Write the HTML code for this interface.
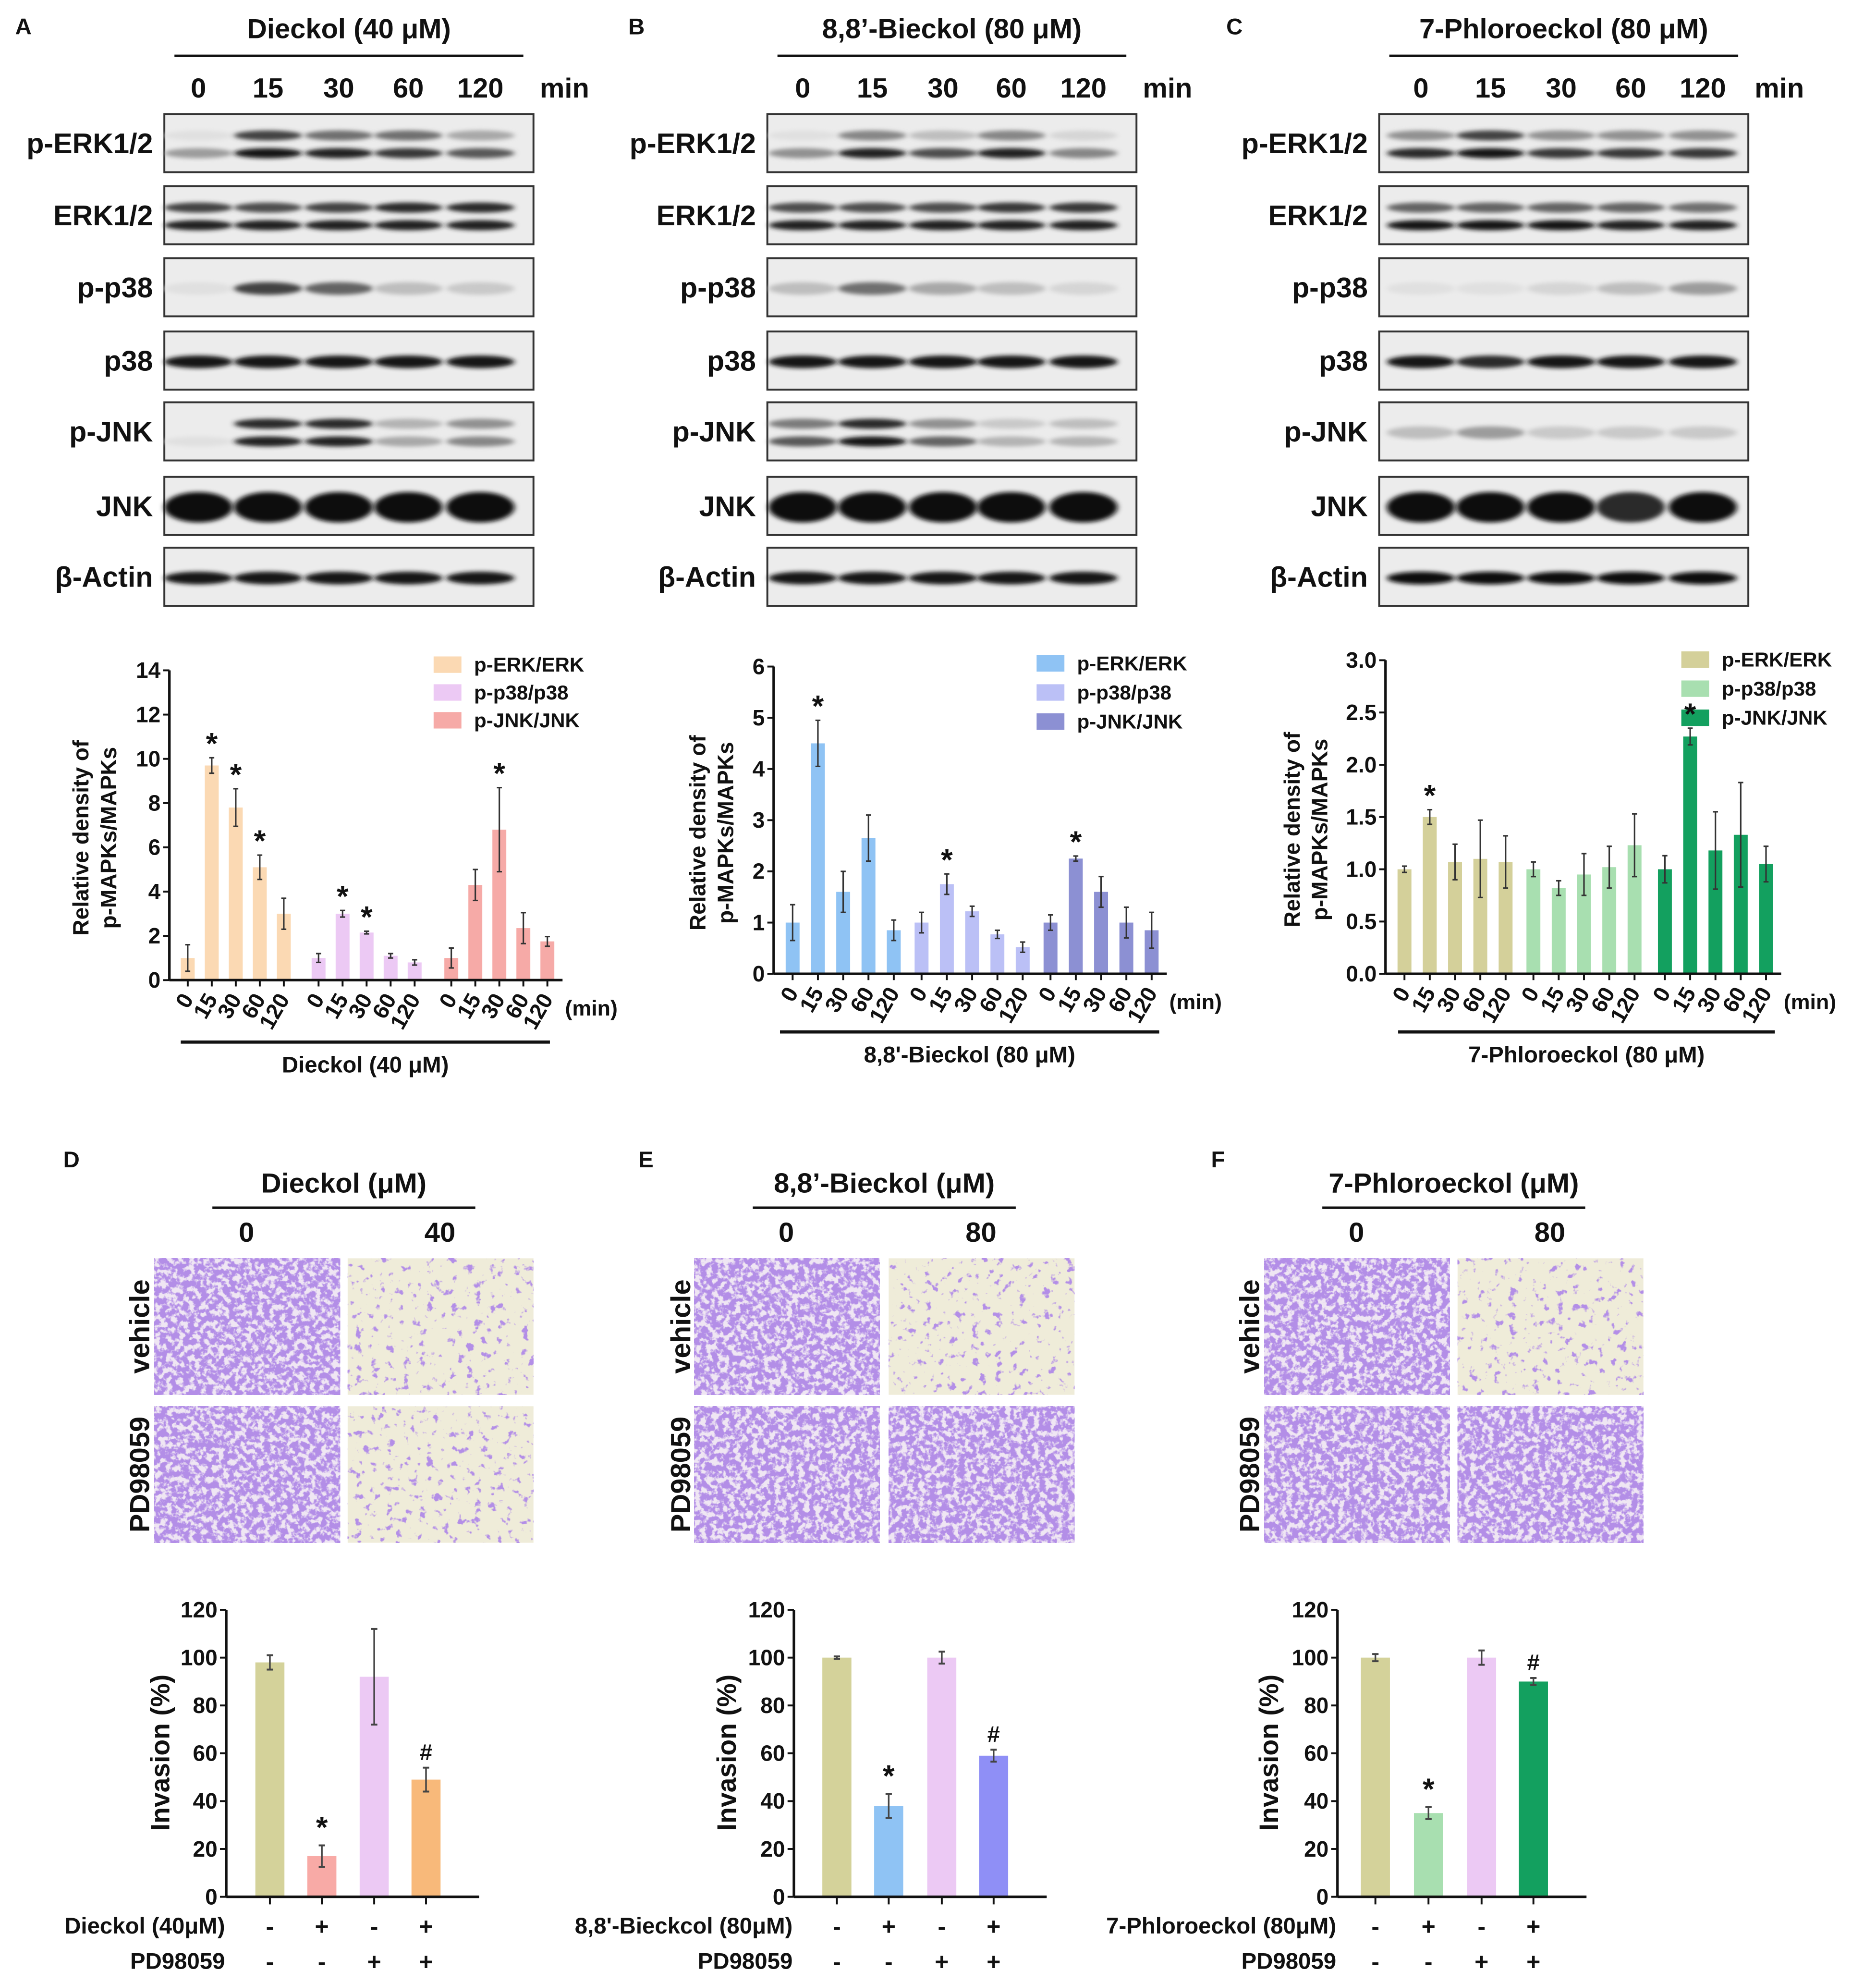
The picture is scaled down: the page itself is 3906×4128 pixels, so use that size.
<!DOCTYPE html>
<html><head><meta charset="utf-8"><style>
html,body{margin:0;padding:0;background:#fff}
svg{display:block}
text{font-family:"Liberation Sans",Arial,sans-serif;font-weight:bold;fill:#111}
</style></head><body>
<svg id="fig" xmlns="http://www.w3.org/2000/svg" width="3906" height="4128" viewBox="0 0 1484 1568">
<defs>
<filter id="blur" x="-50%" y="-100%" width="200%" height="300%"><feGaussianBlur stdDeviation="2.2 1.6"/></filter>
</defs>
<g id="root"></g>
</svg>
<script>
// ---------- chart data ----------
const mapkTimes = ["0","15","30","60","120"];
const mapkSeries = ["p-ERK/ERK","p-p38/p38","p-JNK/JNK"];
const aErk = [1,9.7,7.8,5.1,3.0];   const aErkErr = [0.6,0.35,0.85,0.55,0.7];
const aP38 = [1,3.0,2.15,1.1,0.8];  const aP38Err = [0.2,0.15,0.06,0.1,0.12];
const aJnk = [1,4.3,6.8,2.35,1.75]; const aJnkErr = [0.45,0.7,1.9,0.7,0.22];
const aStars = [[0,1,1,1,0],[0,1,1,0,0],[0,0,1,0,0]];
const bErk = [1,4.5,1.6,2.65,0.85]; const bErkErr = [0.35,0.45,0.4,0.45,0.2];
const bP38 = [1,1.75,1.22,0.77,0.52]; const bP38Err = [0.2,0.2,0.1,0.08,0.1];
const bJnk = [1,2.25,1.6,1.0,0.85]; const bJnkErr = [0.15,0.05,0.3,0.3,0.35];
const bStars = [[0,1,0,0,0],[0,1,0,0,0],[0,1,0,0,0]];
const cErk = [1,1.5,1.07,1.1,1.07]; const cErkErr = [0.03,0.07,0.17,0.37,0.25];
const cP38 = [1,0.82,0.95,1.02,1.23]; const cP38Err = [0.07,0.07,0.2,0.2,0.3];
const cJnk = [1,2.27,1.18,1.33,1.05]; const cJnkErr = [0.13,0.08,0.37,0.5,0.17];
const cStars = [[0,1,0,0,0],[0,0,0,0,0],[0,1,0,0,0]];
const aTicks = [0,2,4,6,8,10,12,14];
const bTicks = [0,1,2,3,4,5,6];
const cTicks = ["0.0","0.5","1.0","1.5","2.0","2.5","3.0"];
const invGroups = ["vehicle","compound","PD98059","compound+PD98059"];
const dInv = [98,17,92,49]; const dInvErr = [3,4.5,20,5];
const eInv = [100,38,100,59]; const eInvErr = [0.5,5,2.5,2.5];
const fInv = [100,35,100,90]; const fInvErr = [1.5,2.5,3,1.5];
const invTicks = [0,20,40,60,80,100,120];
const signRow1 = ["-","+","-","+"];
const signRow2 = ["-","-","+","+"];

const NS="http://www.w3.org/2000/svg";
const root=document.getElementById('root');
function el(tag,attrs,parent,txt){const e=document.createElementNS(NS,tag);for(const k in attrs)e.setAttribute(k,attrs[k]);if(txt!==undefined)e.textContent=txt;(parent||root).appendChild(e);return e;}
function T(x,y,s,size,anchor,name,extra){const e=el('text',Object.assign({x:x,y:y,'font-size':size,'text-anchor':anchor||'middle'},extra||{}),root,s);


return e;}

// ---------- Western blots ----------
const rows=["p-ERK1/2","ERK1/2","p-p38","p38","p-JNK","JNK","β-Actin"];
const rowY=[90,147,204,262,318,377,433];
const panels=[
 {L:"A",lx:10,title:"Dieckol (40 μM)",x0:130,lanes:[157,212,268,323,380],
  bands:[[[.35,.95,.9,.8,.65],[.05,.75,.55,.55,.3]],[[.9,.9,.9,.9,.9],[.75,.7,.75,.85,.85]],[[.05,.75,.6,.2,.15]],[[.95,.95,.95,.95,.95]],[[.05,.9,.9,.3,.45],[0,.85,.85,.25,.4]],[[1,1,1,1,1]],[[.95,.95,.95,.95,.95]]]},
 {L:"B",lx:495,title:"8,8’-Bieckol (80 μM)",x0:607,lanes:[635,690,746,800,857],
  bands:[[[.4,.9,.7,.9,.45],[.05,.45,.2,.45,.1]],[[.9,.9,.9,.9,.9],[.7,.7,.7,.8,.8]],[[.2,.55,.3,.2,.1]],[[.95,.95,.95,.95,.95]],[[.65,.95,.6,.25,.25],[.5,.85,.4,.15,.2]],[[1,1,1,1,1]],[[.95,.95,.95,.95,.95]]]},
 {L:"C",lx:968,title:"7-Phloroeckol (80 μM)",x0:1091,lanes:[1124,1179,1235,1290,1347],
  bands:[[[.85,.95,.8,.8,.8],[.4,.75,.4,.4,.4]],[[.95,.95,.95,.9,.9],[.6,.6,.6,.6,.55]],[[.05,.05,.1,.2,.35]],[[.95,.85,.95,.95,.95]],[[.2,.35,.15,.15,.15]],[[1,1,1,.85,1]],[[1,1,1,1,1]]]}
];
panels.forEach((p,pi)=>{
 T(p.lx+2,27,p.L,18,'start','panel-label-'+p.L.toLowerCase());
 const cx=p.x0+146;
 T(cx,30,p.title,22,'middle','blot-title-'+p.L.toLowerCase());
 const ln=el('line',{x1:p.x0+8,x2:p.x0+284,y1:44,y2:44,stroke:'#111','stroke-width':2});
 
 
 mapkTimes.forEach((t,i)=>T(p.lanes[i],77,t,22,'middle','lane-label-'+t));
 T(p.x0+297,77,"min",22,'start','lane-unit-min');
 rows.forEach((r,ri)=>{
  const y=rowY[ri];
  T(p.x0-9,y+31,r,22.5,'end','row-label');
  const g=el('g',{});
  
  
  el('rect',{x:p.x0,y:y,width:292,height:46,fill:'#ececec',stroke:'#333','stroke-width':1.5},g);
  const b=p.bands[ri];
  const dbl=b.length>1;
  b.forEach((arr,bi)=>{
   arr.forEach((v,li)=>{
    if(v<=0.02)return;
    const by=dbl?(bi===0?y+31:y+17):y+24;
    const h=(ri===5)?24:(dbl?8:10);
    const c=Math.round(235-225*v);
    el('ellipse',{cx:p.lanes[li],cy:by,rx:27,ry:h/2,fill:`rgb(${c},${c},${c})`,filter:'url(#blur)'},g);
   });
  });
 });
});

// ---------- MAPK bar charts ----------
function mapkChart(cfg){
 const {ax,y0,yTop,ymax,ticks,starts,sp,series,errs,stars,colors,legX,legY,legDy,labX,ttl,brX1,brX2,brY,name}=cfg;
 const ys=v=>y0-(v/ymax)*(y0-yTop);
 const g=el('g',{});
 
 
 series.forEach((vals,si)=>{
  vals.forEach((v,i)=>{
   const x=starts[si]+i*sp;
   const r=el('rect',{x:x-5.5,y:ys(v),width:11,height:y0-ys(v),fill:colors[si]},g);
   
   
   const e=errs[si][i];
   el('line',{x1:x,x2:x,y1:ys(v+e),y2:ys(Math.max(0,v-e)),stroke:'#333','stroke-width':1.2},g);
   el('line',{x1:x-2,x2:x+2,y1:ys(v+e),y2:ys(v+e),stroke:'#333','stroke-width':1.2},g);
   el('line',{x1:x-2,x2:x+2,y1:ys(Math.max(0,v-e)),y2:ys(Math.max(0,v-e)),stroke:'#333','stroke-width':1.2},g);
   if(stars[si][i]){T(x,ys(v+e)-3,"*",24,'middle','significance-star');}
   el('line',{x1:x,x2:x,y1:y0,y2:y0+5,stroke:'#111','stroke-width':1.5},g);
   T(x+5,y0+15,mapkTimes[i],17.5,'end','x-tick-label',{transform:`rotate(-60 ${x+5} ${y0+15})`});
  });
 });
 const last=starts[2]+4*sp+12;
 el('line',{x1:ax,x2:last,y1:y0,y2:y0,stroke:'#111','stroke-width':2},g);
 el('line',{x1:ax,x2:ax,y1:y0,y2:yTop,stroke:'#111','stroke-width':2},g);
 ticks.forEach(t=>{const v=parseFloat(t);const y=ys(v);
  el('line',{x1:ax-5,x2:ax,y1:y,y2:y,stroke:'#111','stroke-width':1.5},g);
  T(ax-7,y+6,String(t),17.5,'end','y-tick-label');});
 T(last+2,y0+28,"(min)",17,'start','x-unit-label');
 const my=(y0+yTop)/2+10;
 T(labX,my,"Relative density of",17.5,'middle','y-axis-title',{transform:`rotate(-90 ${labX} ${my})`});
 T(labX+22,my,"p-MAPKs/MAPKs",17.5,'middle','y-axis-title',{transform:`rotate(-90 ${labX+22} ${my})`});
 el('line',{x1:brX1,x2:brX2,y1:brY,y2:brY,stroke:'#111','stroke-width':2.5},g);
 T((brX1+brX2)/2,brY+24,ttl,18,'middle','x-axis-title');
 mapkSeries.forEach((s,i)=>{
  const r=el('rect',{x:legX,y:legY+i*legDy,width:22,height:13,fill:colors[i]},g);
  
  
  T(legX+32,legY+i*legDy+12,s,16,'start','legend-entry');
 });
}
mapkChart({name:'chart-a',ax:134,y0:775,yTop:530,ymax:14,ticks:aTicks,starts:[148.5,252,357],sp:19,series:[aErk,aP38,aJnk],errs:[aErkErr,aP38Err,aJnkErr],stars:aStars,colors:['#fbd9b3','#ecc9f4','#f6aaa7'],legX:343,legY:519,legDy:22,labX:70,ttl:"Dieckol (40 μM)",brX1:143,brX2:435,brY:824});
mapkChart({name:'chart-b',ax:612,y0:770,yTop:527,ymax:6,ticks:bTicks,starts:[627,729,831],sp:20,series:[bErk,bP38,bJnk],errs:[bErkErr,bP38Err,bJnkErr],stars:bStars,colors:['#8fc3f4','#bbc0f6','#8c90d3'],legX:820,legY:518,legDy:23,labX:558,ttl:"8,8'-Bieckol (80 μM)",brX1:617,brX2:917,brY:816});
mapkChart({name:'chart-c',ax:1096,y0:770,yTop:522,ymax:3,ticks:cTicks,starts:[1111,1213,1317],sp:20,series:[cErk,cP38,cJnk],errs:[cErkErr,cP38Err,cJnkErr],stars:cStars,colors:['#d4d09a','#a8dfb0','#13a05f'],legX:1330,legY:515,legDy:23,labX:1028,ttl:"7-Phloroeckol (80 μM)",brX1:1106,brX2:1404,brY:816});

// ---------- Microscopy ----------
const defs=document.querySelector('defs');
let fid=0;
function micro(x,y,w,h,dense,name){
 fid++;
 const f=el('filter',{id:'m'+fid,x:0,y:0,width:'100%',height:'100%'},defs);
 el('feTurbulence',{type:'fractalNoise',baseFrequency:dense?'0.22':'0.16',numOctaves:3,seed:fid*7},f);
 const a=dense?'6 0 0 0 -2.3':'9 0 0 0 -5.6';
 el('feColorMatrix',{type:'matrix',values:`0 0 0 0 0.45  0 0 0 0 0.27  0 0 0 0 0.80  ${a}`},f);
 const g=el('g',{});
 
 
 el('rect',{x:x,y:y,width:w,height:h,fill:dense?'#efe6f3':'#efecd9'},g);
 el('rect',{x:x,y:y,width:w,height:h,filter:`url(#m${fid})`},g);
}
const micPanels=[
 {L:"D",lx:50,title:"Dieckol (μM)",c1:122,c2:275,dose:"40",rl:110,d2v:false,d2p:false},
 {L:"E",lx:505,title:"8,8’-Bieckol (μM)",c1:549,c2:703,dose:"80",rl:538,d2v:false,d2p:true},
 {L:"F",lx:958,title:"7-Phloroeckol (μM)",c1:1000,c2:1153,dose:"80",rl:988,d2v:false,d2p:true}
];
micPanels.forEach(p=>{
 T(p.lx,923,p.L,18,'start','panel-label-'+p.L.toLowerCase());
 const cx=(p.c1+p.c2+147)/2;
 T(cx,943,p.title,22,'middle','micrograph-title');
 el('line',{x1:cx-104,x2:cx+104,y1:955,y2:955,stroke:'#111','stroke-width':2});
 T(p.c1+73,982,"0",22,'middle','dose-label');
 T(p.c2+73,982,p.dose,22,'middle','dose-label');
 T(p.rl+8,1049,"vehicle",22,'middle','row-label-vehicle',{transform:`rotate(-90 ${p.rl+8} 1049)`});
 T(p.rl+8,1166,"PD98059",22,'middle','row-label-pd98059',{transform:`rotate(-90 ${p.rl+8} 1166)`});
 micro(p.c1,995,147,108,true,'micrograph-vehicle-0');
 micro(p.c2,995,147,108,p.d2v,'micrograph-vehicle-dose');
 micro(p.c1,1112,147,108,true,'micrograph-pd98059-0');
 micro(p.c2,1112,147,108,p.d2p,'micrograph-pd98059-dose');
});

// ---------- Invasion charts ----------
function invChart(cfg){
 const {ax,xs,vals,errs,colors,marks,rowLab,labX,name}=cfg;
 const y0=1500,yTop=1273,ymax=120;
 const ys=v=>y0-(v/ymax)*(y0-yTop);
 const g=el('g',{});
 
 
 vals.forEach((v,i)=>{
  const x=xs[i];
  const r=el('rect',{x:x-11.5,y:ys(v),width:23,height:y0-ys(v),fill:colors[i]},g);
  
  
  const e=errs[i];
  el('line',{x1:x,x2:x,y1:ys(v+e),y2:ys(v-e),stroke:'#444','stroke-width':1.3},g);
  el('line',{x1:x-2.5,x2:x+2.5,y1:ys(v+e),y2:ys(v+e),stroke:'#444','stroke-width':1.5},g);
  el('line',{x1:x-2.5,x2:x+2.5,y1:ys(v-e),y2:ys(v-e),stroke:'#444','stroke-width':1.5},g);
  if(marks[i])T(x,ys(v+e)-6,marks[i],marks[i]==='*'?24:18,'middle','significance-mark');
  el('line',{x1:x,x2:x,y1:y0,y2:y0+6,stroke:'#111','stroke-width':1.5},g);
  T(x,1530,signRow1[i],19,'middle','sign-compound');
  T(x,1558,signRow2[i],19,'middle','sign-pd98059');
 });
 el('line',{x1:ax,x2:xs[3]+42,y1:y0,y2:y0,stroke:'#111','stroke-width':2},g);
 el('line',{x1:ax,x2:ax,y1:y0,y2:yTop,stroke:'#111','stroke-width':2},g);
 invTicks.forEach(t=>{const y=ys(t);
  el('line',{x1:ax-5,x2:ax,y1:y,y2:y,stroke:'#111','stroke-width':1.5},g);
  T(ax-7,y+6,String(t),17.5,'end','y-tick-label');});
 T(labX,1386,"Invasion (%)",21,'middle','y-axis-title',{transform:`rotate(-90 ${labX} 1386)`});
 T(ax-1,1529,rowLab,18,'end','row-label-compound');
 T(ax-1,1557,"PD98059",18,'end','row-label-pd98059');
}
invChart({name:'chart-d',ax:179,xs:[213.5,254.6,296,337],vals:dInv,errs:dInvErr,colors:['#d4d29a','#f8aaa6','#ecc9f4','#f8b97a'],marks:["","*","","#"],rowLab:"Dieckol (40μM)",labX:134});
invChart({name:'chart-e',ax:628,xs:[662,703,745,786],vals:eInv,errs:eInvErr,colors:['#d4d29a','#8fc3f4','#ecc9f4','#8f8ff6'],marks:["","*","","#"],rowLab:"8,8'-Bieckcol (80μM)",labX:582});
invChart({name:'chart-f',ax:1058,xs:[1088,1130,1172,1213],vals:fInv,errs:fInvErr,colors:['#d4d29a','#a8dfb0','#ecc9f4','#13a05f'],marks:["","*","","#"],rowLab:"7-Phloroeckol (80μM)",labX:1011});
</script>
</body></html>
